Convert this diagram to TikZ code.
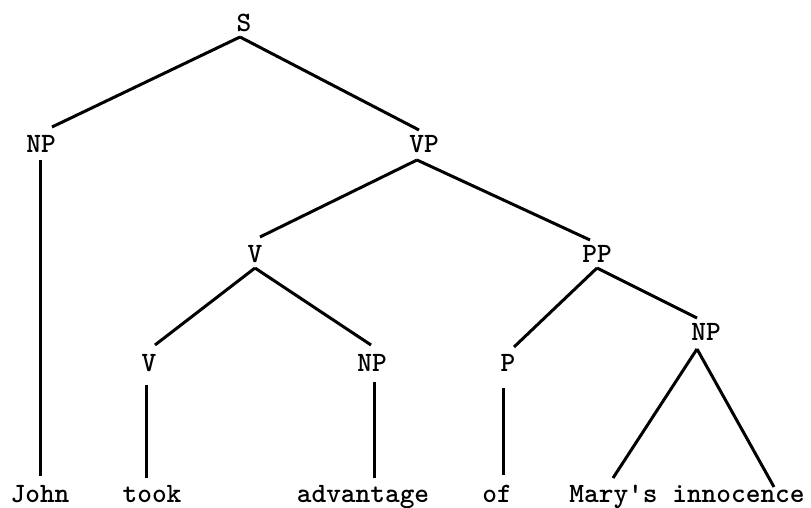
\documentclass[tikz,border=0pt]{standalone}
\begin{document}
\begin{tikzpicture}[x=1pt,y=-1pt,
  lab/.style={inner sep=0pt,font=\ttfamily\bfseries\fontsize{28}{32}\selectfont},
  word/.style={lab,anchor=base},
  branch/.style={line width=3pt}]
\useasboundingbox (0,0) rectangle (811,508);
% category labels
\node[lab] (S)   at (244,23)  {S};
\node[lab] (NPa) at (41,144)  {NP};
\node[lab] (VP)  at (424,144) {VP};
\node[lab] (Va)  at (255,254) {V};
\node[lab] (PP)  at (597,254) {PP};
\node[lab] (Vb)  at (149,363) {V};
\node[lab] (NPb) at (372,363) {NP};
\node[lab] (P)   at (508,363) {P};
\node[lab] (NPc) at (706,332) {NP};
% words
\node[word] (john) at (40,502)  {John};
\node[word] (took) at (152,502) {took};
\node[word] (adv)  at (363,502) {advantage};
\node[word] (of)   at (497,502) {of};
\node[word] (mary) at (687,502) {Mary's innocence};
% branches
\draw[branch] ([shift={(-4,14)}]S.center) -- ([shift={(11,-17)}]NPa.center);
\draw[branch] ([shift={(-4,14)}]S.center) -- ([shift={(-5,-14)}]VP.center);
\draw[branch] ([shift={(-1,16)}]NPa.center) -- ([shift={(0,-26)}]john.base);
\draw[branch] ([shift={(-7,16)}]VP.center) -- ([shift={(5,-17)}]Va.center);
\draw[branch] ([shift={(-7,16)}]VP.center) -- ([shift={(-7,-14)}]PP.center);
\draw[branch] ([shift={(0,14)}]Va.center) -- ([shift={(6,-18)}]Vb.center);
\draw[branch] ([shift={(0,14)}]Va.center) -- ([shift={(-1,-18)}]NPb.center);
\draw[branch] ([shift={(0,14)}]PP.center) -- ([shift={(6,-16)}]P.center);
\draw[branch] ([shift={(0,14)}]PP.center) -- ([shift={(-9,-14)}]NPc.center);
\draw[branch] ([shift={(-3,22)}]Vb.center) -- ([shift={(-6,-24)}]took.base);
\draw[branch] ([shift={(2,19)}]NPb.center) -- ([shift={(11,-24)}]adv.base);
\draw[branch] ([shift={(-5,25)}]P.center) -- ([shift={(6,-27)}]of.base);
\draw[branch] ([shift={(-9,17)}]NPc.center) -- ([shift={(-74,-24)}]mary.base);
\draw[branch] ([shift={(-9,17)}]NPc.center) -- ([shift={(87,-15)}]mary.base);
\end{tikzpicture}
\end{document}
